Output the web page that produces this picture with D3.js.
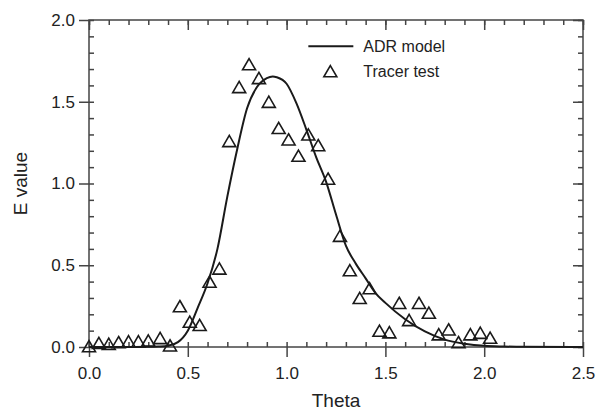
<!DOCTYPE html>
<html>
<head>
<meta charset="utf-8">
<script src="https://cdn.jsdelivr.net/npm/d3@7"></script>
<style>
    body { margin: 0; background: #fff; }
    text { font-family: "Liberation Sans", Arial, sans-serif; fill: #222; }
</style>
</head>
<body>
<div id="chart"></div>
<script>
// ADR model curve
const modelTheta = [0, 0.2, 0.3, 0.35, 0.4, 0.45, 0.5, 0.55, 0.6, 0.65, 0.7, 0.75, 0.8, 0.85, 0.9, 0.93, 0.95, 1.0,
    1.05, 1.1, 1.15, 1.2, 1.25, 1.3, 1.35, 1.4, 1.45, 1.5, 1.6, 1.7, 1.8, 1.9, 2.0, 2.1, 2.2, 2.5];
const modelE = [0, 0, 0.001, 0.003, 0.008, 0.03, 0.10, 0.24, 0.39, 0.60, 0.92, 1.21, 1.46, 1.59, 1.645, 1.655, 1.65, 1.61,
    1.49, 1.33, 1.16, 1.01, 0.81, 0.62, 0.51, 0.42, 0.33, 0.27, 0.17, 0.095, 0.045, 0.02, 0.007, 0.003, 0.001, 0];

// tracer test points
const tracerTheta = [0, 0.05, 0.10, 0.15, 0.20, 0.25, 0.30, 0.36, 0.41, 0.46, 0.51, 0.56, 0.61, 0.66, 0.71, 0.76, 0.81,
    0.86, 0.91, 0.96, 1.01, 1.06, 1.11, 1.16, 1.21, 1.27, 1.32, 1.37, 1.42, 1.47, 1.52, 1.57, 1.62, 1.67, 1.72, 1.77,
    1.82, 1.87, 1.93, 1.98, 2.03];
const tracerE = [0.005, 0.025, 0.02, 0.03, 0.035, 0.035, 0.04, 0.055, 0.01, 0.25, 0.155, 0.135, 0.40, 0.48, 1.26, 1.59, 1.73,
    1.645, 1.50, 1.34, 1.27, 1.17, 1.30, 1.235, 1.03, 0.68, 0.47, 0.30, 0.36, 0.10, 0.09, 0.27, 0.165, 0.27, 0.21, 0.078,
    0.108, 0.03, 0.078, 0.087, 0.057];

const xTicks = [0, 0.5, 1.0, 1.5, 2.0, 2.5];
const yTicks = [0, 0.5, 1.0, 1.5, 2.0];
const legendLabels = ["ADR model", "Tracer test"];

const margin = {top: 20, right: 14, bottom: 64, left: 89},
    width = 597 - margin.left - margin.right,
    height = 411 - margin.top - margin.bottom;

const svg = d3.select("#chart")
    .append("svg")
    .attr("width", 597)
    .attr("height", 411)
    .append("g")
    .attr("transform", `translate(${margin.left},${margin.top})`);

const x = d3.scaleLinear().domain([0, 2.5]).range([0, width]);
const y = d3.scaleLinear().domain([0, 2.0]).range([height, 0]);

const axisColor = "#444";
const minorX = d3.range(0, 2.501, 0.1);
const minorY = d3.range(0, 2.001, 0.1);

// frame
svg.append("rect")
    .attr("width", width)
    .attr("height", height)
    .attr("fill", "none")
    .attr("stroke", axisColor)
    .attr("stroke-width", 1.5);

// minor ticks (inward)
function tickAxis(axis, ticks, size) {
    return axis.tickValues(ticks).tickSize(size).tickFormat("");
}
const axes = svg.append("g").attr("class", "axes");

axes.append("g").attr("transform", `translate(0,${height})`).call(tickAxis(d3.axisBottom(x), minorX, -5));
axes.append("g").call(tickAxis(d3.axisTop(x), minorX, -5));
axes.append("g").call(tickAxis(d3.axisLeft(y), minorY, -5));
axes.append("g").attr("transform", `translate(${width},0)`).call(tickAxis(d3.axisRight(y), minorY, -5));

// major ticks
axes.append("g").attr("transform", `translate(0,${height})`)
    .call(d3.axisBottom(x).tickValues(xTicks).tickSize(10).tickPadding(10).tickFormat(d3.format(".1f")));
axes.append("g").call(tickAxis(d3.axisTop(x), xTicks, -10));
axes.append("g")
    .call(d3.axisLeft(y).tickValues(yTicks).tickSize(10).tickPadding(4).tickFormat(d3.format(".1f")));
axes.append("g").attr("transform", `translate(${width},0)`).call(tickAxis(d3.axisRight(y), yTicks, -10));

axes.selectAll(".domain").remove();
axes.selectAll("line").attr("stroke", axisColor).attr("stroke-width", 1.5);
axes.selectAll("text")
    .attr("font-size", 17)
    .attr("fill", "#222")
    .style("font-family", "'Liberation Sans', Arial, sans-serif");

// axis titles
svg.append("text")
    .attr("x", width / 2)
    .attr("y", height + 60)
    .attr("text-anchor", "middle")
    .attr("font-size", 19)
    .text("Theta");

svg.append("text")
    .attr("transform", `translate(${-62},${height / 2}) rotate(-90)`)
    .attr("text-anchor", "middle")
    .attr("font-size", 19)
    .text("E value");

// model curve
const model = modelTheta.map((t, i) => ({t: t, e: modelE[i]}));
svg.append("path")
    .datum(model)
    .attr("fill", "none")
    .attr("stroke", "#1a1a1a")
    .attr("stroke-width", 2)
    .attr("d", d3.line().x(d => x(d.t)).y(d => y(d.e)).curve(d3.curveMonotoneX));

// triangle marker, centred on its box
const tri = "M0,-5.6L6.5,5.6L-6.5,5.6Z";
const tracer = tracerTheta.map((t, i) => ({t: t, e: tracerE[i]}));
svg.selectAll(".tracer")
    .data(tracer)
    .enter()
    .append("path")
    .attr("class", "tracer")
    .attr("d", tri)
    .attr("transform", d => `translate(${x(d.t)},${y(d.e)})`)
    .attr("fill", "none")
    .attr("stroke", "#1a1a1a")
    .attr("stroke-width", 1.6);

// legend
const legend = svg.append("g").attr("transform", `translate(${x(1.11)},${y(1.84)})`);
legend.append("line")
    .attr("x1", 0).attr("x2", 45)
    .attr("stroke", "#1a1a1a").attr("stroke-width", 2);
legend.append("path")
    .attr("d", tri)
    .attr("transform", "translate(22,25)")
    .attr("fill", "none")
    .attr("stroke", "#1a1a1a")
    .attr("stroke-width", 1.6);
legend.selectAll(".lab")
    .data(legendLabels)
    .enter()
    .append("text")
    .attr("class", "lab")
    .attr("x", 55)
    .attr("y", (d, i) => 6 + i * 25)
    .attr("font-size", 16)
    .text(d => d);
</script>
</body>
</html>
